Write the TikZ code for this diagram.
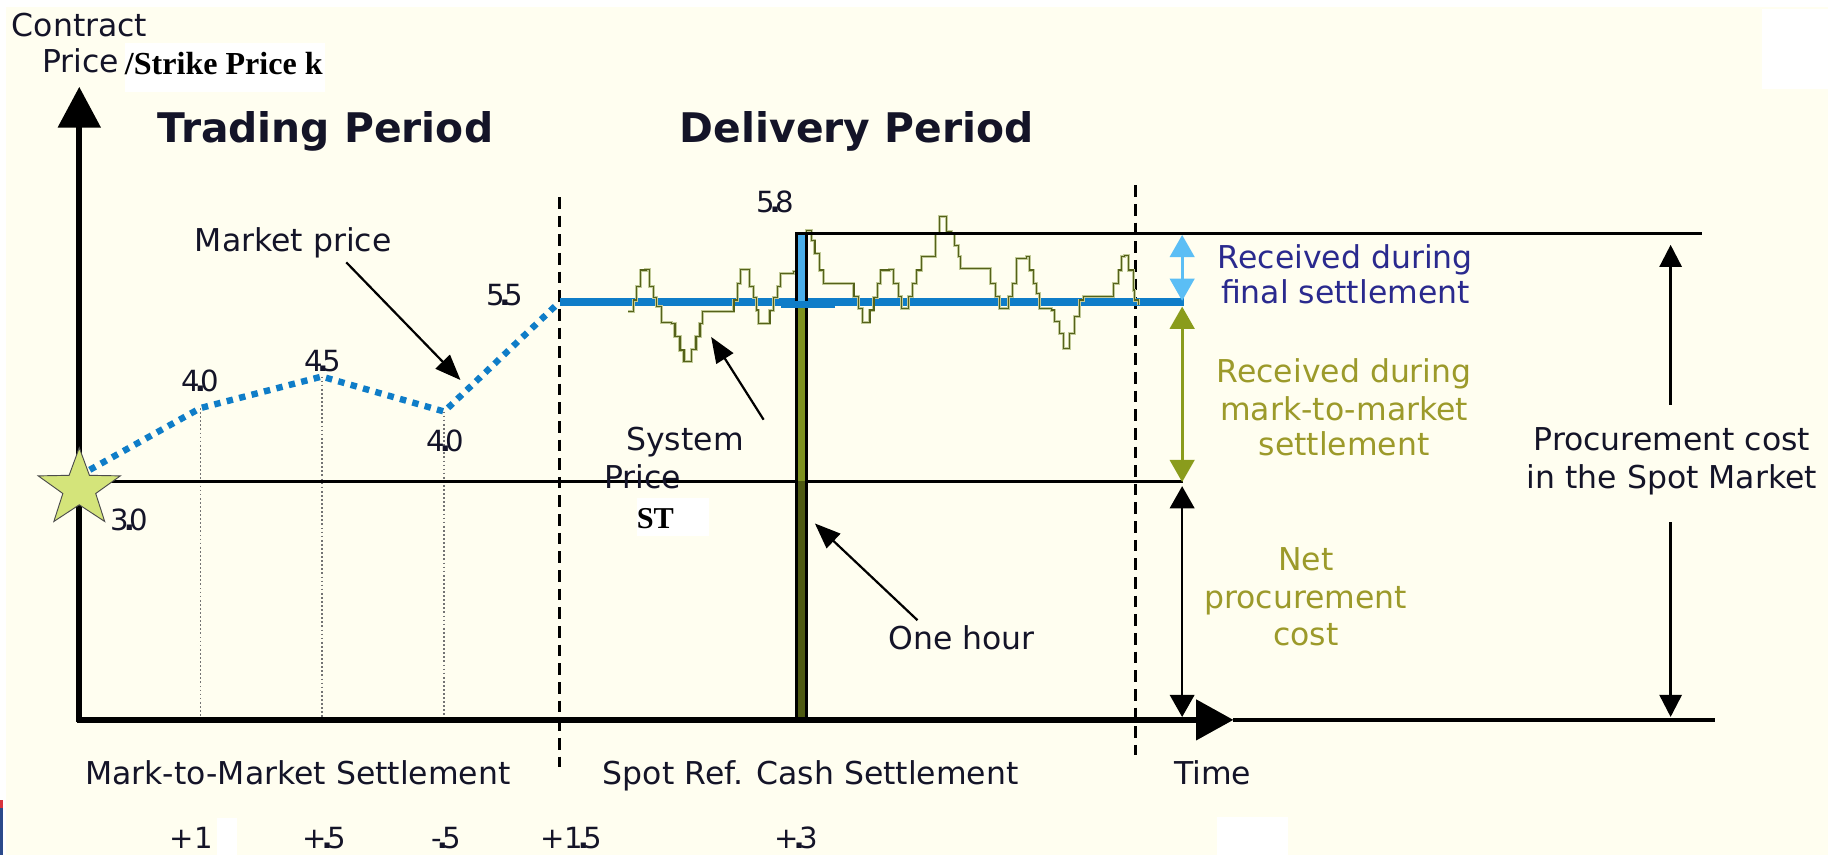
\documentclass[tikz,border=0pt]{standalone}
\usepackage{fontspec}
\setmainfont{DejaVu Sans}
\newfontfamily\tmsfont{Liberation Serif}
\usetikzlibrary{arrows.meta}
\definecolor{cream}{HTML}{FFFEF0}
\definecolor{mblue}{HTML}{0F7DC8}
\definecolor{lblue}{HTML}{5BBEF5}
\definecolor{olivearr}{HTML}{8A9C1C}
\definecolor{olivetxt}{HTML}{9C9A2A}
\definecolor{navy}{HTML}{2A2A8E}
\definecolor{starfill}{HTML}{D4E47A}
\definecolor{noisedark}{HTML}{55621A}
\definecolor{noiselight}{HTML}{C2CA98}
\definecolor{barblue}{HTML}{4AAEEA}
\definecolor{barolive}{HTML}{7E9220}
\definecolor{bardark}{HTML}{4E5A12}
\definecolor{ink}{HTML}{141428}
\definecolor{stripered}{HTML}{D8343C}
\definecolor{stripeblue}{HTML}{2B4A8A}
\newcommand{\dnum}[2]{#1\makebox[0pt]{\textbf{.}}#2}
\begin{document}
\begin{tikzpicture}[x=1pt,y=-1pt,
  txt/.style={font=\fontsize{27}{32}\selectfont, text=ink, inner sep=0pt, anchor=base west},
  ctxt/.style={font=\fontsize{27}{32}\selectfont, inner sep=0pt, anchor=base},
  num/.style={font=\fontsize{25}{30}\selectfont, text=ink, inner sep=0pt, anchor=base},
  ttl/.style={font=\fontsize{35}{40}\selectfont\bfseries, text=ink, inner sep=0pt, anchor=base west},
  serifbf/.style={font=\fontsize{27.5}{32}\selectfont\tmsfont\bfseries, text=black, inner sep=0pt, anchor=base west},
  axisline/.style={line width=4.8pt, black},
  thinline/.style={line width=3pt, black},
  dashedsep/.style={line width=2.8pt, black, dash pattern=on 10pt off 6pt},
  dropline/.style={line width=1.3pt, black!55, dash pattern=on 1.5pt off 2pt},
  pointer/.style={line width=1.9pt, black, -{Triangle[length=22pt,width=17pt]}},
  dblarrow/.style={line width=2.4pt, {Triangle[length=19pt,width=21pt]}-{Triangle[length=19pt,width=21pt]}},
  sglarrow/.style={line width=2.2pt, black, -{Triangle[length=19pt,width=19pt]}}
]
\useasboundingbox (0,0) rectangle (1568,733);
% background
\fill[white] (0,0) rectangle (1568,733);
\fill[cream] (5,6) rectangle (1568,733);
\fill[white] (1511,8) rectangle (1568,76);
\fill[white] (1044,701) rectangle (1105,733);
\fill[white] (186,702) rectangle (203,733);
\fill[stripered] (0,686) rectangle (3,693);
\fill[stripeblue] (0,693) rectangle (3,733);

% key coordinates
\coordinate (p0) at (77,403);
\coordinate (p1) at (172,350);
\coordinate (p2) at (276,323);
\coordinate (p3) at (381,353);
\coordinate (p4) at (480,259);

% dashed separators
\draw[dashedsep] (480,169) -- (480,658);
\draw[dashedsep] (974,159) -- (974,648);

% drop lines
\draw[dropline] (p1) -- (172,617);
\draw[dropline] (p2) -- (276,617);
\draw[dropline] (p3) -- (381,617);

% horizontal reference lines
\draw[thinline] (68,413) -- (1015,413);
\draw[thinline] (1058,617.5) -- (1471,617.5);

% strike line and market price
\draw[mblue, line width=6.5pt] (p4) -- (1016,259);
\draw[mblue, line width=5.5pt, dash pattern=on 5.5pt off 5.5pt] (p0) -- (p1) -- (p2) -- (p3) -- (p4);

% system price noise
\begin{scope}[shift={(531.8,163)}, x=0.2859pt, y=-0.2859pt]
\foreach \c/\w in {noiselight/2.6pt, noisedark/0.9pt}{
\draw[\c, line width=\w] (25,365) -| (40,330) -| (50,290) -| (62,240) -| (78,238) -| (88,290) -| (100,322) -| (110,350) -| (125,398) -| (155,400) -| (165,440) -| (180,480) -| (192,515) -| (205,515) -| (215,478) -| (228,440) -| (240,400) -| (248,365) -| (332,365) -| (342,330) -| (352,280) -| (362,238) -| (378,238) -| (388,290) -| (400,322) -| (410,360) -| (415,400) -| (442,400) -| (450,362) -| (460,322) -| (472,290) -| (482,250) -| (520,245) -| (530,195) -| (545,150) -| (560,120) -| (570,120) -| (575,150) -| (585,190) -| (598,240) -| (610,280) -| (692,280) -| (702,320) -| (715,355) -| (728,398) -| (742,398) -| (750,360) -| (762,322) -| (772,280) -| (782,240) -| (808,238) -| (820,280) -| (835,320) -| (845,355) -| (855,355) -| (865,320) -| (878,280) -| (890,240) -| (905,200) -| (935,200) -| (948,130) -| (960,80) -| (972,80) -| (980,125) -| (995,130) -| (1005,165) -| (1015,200) -| (1022,235) -| (1100,235) -| (1112,280) -| (1128,320) -| (1140,355) -| (1155,355) -| (1165,320) -| (1178,280) -| (1190,205) -| (1220,200) -| (1230,240) -| (1240,280) -| (1250,310) -| (1260,355) -| (1295,360) -| (1305,395) -| (1320,430) -| (1330,475) -| (1340,475) -| (1350,430) -| (1365,380) -| (1380,330) -| (1390,320) -| (1470,320) -| (1480,280) -| (1495,240) -| (1505,200) -| (1515,195) -| (1525,240) -| (1540,300) -| (1545,330) -| (1555,345);
}
\end{scope}

% one-hour bar
\fill[barblue] (683,200) rectangle (692,259);
\fill[barolive] (683,259) rectangle (692,413);
\fill[bardark] (683,413) rectangle (692,617);
\draw[thinline] (683.3,617) -- (683.3,200.3) -- (1460,200.3);
\draw[thinline] (691.8,200.3) -- (691.8,617);
\draw[mblue, line width=6pt] (670,261.5) -- (716,261.5);

% axes
\draw[axisline, -{Triangle[length=35pt,width=36pt]}] (68,619.5) -- (68,74.5);
\draw[axisline, -{Triangle[length=32pt,width=34pt]}] (66,617.5) -- (1058,617.5);

% right-hand measures
\coordinate (topR) at (1014,201.5);
\coordinate (midR) at (1014,258);
\coordinate (midR2) at (1014,263);
\coordinate (lowR) at (1014,413.5);
\coordinate (lowR2) at (1014,417);
\coordinate (botR) at (1014,615);
\draw[dblarrow, lblue] (topR) -- (midR);
\draw[dblarrow, olivearr] (midR2) -- (lowR);
\draw[dblarrow, black, line width=2pt] (lowR2) -- (botR);

% star
\draw[fill=starfill, draw=black!70, line width=0.8pt] (68,384) -- (76.7,407.7) -- (103.2,408.2) -- (82.1,423.3) -- (89.8,447.3) -- (68,433) -- (46.2,447.3) -- (53.9,423.3) -- (32.8,408.2) -- (59.3,407.7) -- cycle;

% axis labels
\node[txt] (contract) at (10,31) {Contract};
\node[txt] (pricelbl) at (36,62) {Price};
\fill[white] (107,37) rectangle (279,79);
\node[serifbf] (strike) at (107,64) {/Strike Price k};
\node[ttl] (trading) at (135,122) {Trading Period};
\node[ttl] (delivery) at (583,122) {Delivery Period};

% price point labels
\node[num] (l40a) at (172,336) {\dnum{4}{0}};
\node[num] (l45) at (277,319) {\dnum{4}{5}};
\node[num] (l40b) at (382,387) {\dnum{4}{0}};
\node[num] (l55) at (433,262) {\dnum{5}{5}};
\node[num] (l30) at (111,455) {\dnum{3}{0}};
\node[num] (l58) at (665,182) {\dnum{5}{8}};

% pointers
\node[txt] (mkt) at (167,216) {Market price};
\coordinate (mktTail) at (297,225);
\coordinate (mktTip) at (395,326);
\draw[pointer] (mktTail) -- (mktTip);

\node[txt] (sys1) at (537,386) {System};
\node[txt] (sys2) at (518,419) {Price};
\fill[white] (546,427) rectangle (608,460);
\node[serifbf, font=\fontsize{26}{30}\selectfont\tmsfont\bfseries] (st) at (546,453) {ST};
\coordinate (sysTail) at (655,360);
\coordinate (sysTip) at (610,289);
\draw[pointer] (sysTail) -- (sysTip);

\node[txt] (onehour) at (762,557) {One hour};
\coordinate (ohTail) at (787,532);
\coordinate (ohTip) at (699,449);
\draw[pointer] (ohTail) -- (ohTip);

% right texts
\node[ctxt, text=navy] (rf1) at (1154,230) {Received during};
\node[ctxt, text=navy] (rf2) at (1154,260) {final settlement};
\node[ctxt, text=olivetxt] (rm1) at (1153,328) {Received during};
\node[ctxt, text=olivetxt] (rm2) at (1153,361) {mark-to-market};
\node[ctxt, text=olivetxt] (rm3) at (1153,391) {settlement};
\node[ctxt, text=olivetxt] (np1) at (1120,489) {Net};
\node[ctxt, text=olivetxt] (np2) at (1120,522) {procurement};
\node[ctxt, text=olivetxt] (np3) at (1120,554) {cost};
\node[ctxt, text=ink] (pc1) at (1434,386) {Procurement cost};
\node[ctxt, text=ink] (pc2) at (1434,419) {in the Spot Market};
\coordinate (pcTop) at (1433,210);
\coordinate (pcUp) at (1433,347);
\coordinate (pcDown) at (1433,448);
\coordinate (pcBot) at (1433,615);
\draw[sglarrow] (pcUp) -- (pcTop);
\draw[sglarrow] (pcDown) -- (pcBot);

% bottom labels
\node[txt] (mtm) at (73,673) {Mark-to-Market Settlement};
\node[txt] (spot) at (517,673) {Spot Ref. Cash Settlement};
\node[txt] (time) at (1007,673) {Time};
\node[num] (b1) at (164,728) {+1};
\node[num] (b2) at (278,728) {+\makebox[0pt]{\textbf{.}}5};
\node[num] (b3) at (383,728) {-\makebox[0pt]{\textbf{.}}5};
\node[num] (b4) at (490,728) {+1\makebox[0pt]{\textbf{.}}5};
\node[num] (b5) at (683,728) {+\makebox[0pt]{\textbf{.}}3};
\end{tikzpicture}
\end{document}
